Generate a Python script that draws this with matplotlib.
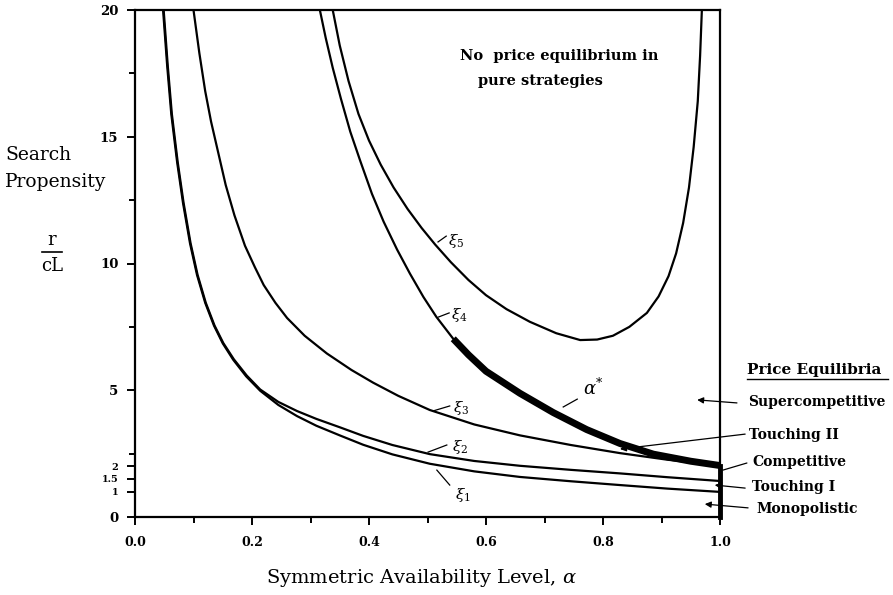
import numpy as np
import matplotlib.pyplot as plt
from matplotlib.lines import Line2D

plt.rcParams['font.family'] = ['DejaVu Serif']
plt.rcParams['mathtext.fontset'] = 'dejavuserif'

# ---------------- curves (alpha, r/cL) ----------------
xi1_x = [0.048, 0.055, 0.062, 0.072, 0.082, 0.094, 0.106, 0.120, 0.135, 0.150, 0.168,
         0.190, 0.214, 0.245, 0.277, 0.310, 0.350, 0.390, 0.440, 0.504, 0.580, 0.658,
         0.745, 0.829, 0.910, 1.000]
xi1_y = [20.0, 17.8, 15.9, 14.0, 12.4, 10.8, 9.55, 8.45, 7.55, 6.85, 6.2,
         5.55, 4.98, 4.42, 3.98, 3.6, 3.22, 2.85, 2.47, 2.1, 1.8, 1.58,
         1.41, 1.26, 1.12, 0.99]

xi2_x = [0.049, 0.056, 0.063, 0.073, 0.083, 0.095, 0.107, 0.121, 0.136, 0.151, 0.169,
         0.191, 0.214, 0.245, 0.277, 0.310, 0.350, 0.390, 0.440, 0.504, 0.580, 0.658,
         0.745, 0.829, 0.910, 1.000]
xi2_y = [20.0, 17.8, 15.9, 14.0, 12.4, 10.8, 9.55, 8.45, 7.55, 6.86, 6.22,
         5.58, 5.03, 4.54, 4.18, 3.87, 3.54, 3.2, 2.84, 2.48, 2.21, 2.02,
         1.86, 1.72, 1.57, 1.42]

xi3_x = [0.100, 0.110, 0.120, 0.130, 0.142, 0.155, 0.170, 0.188, 0.205, 0.220, 0.240,
         0.260, 0.290, 0.328, 0.370, 0.407, 0.450, 0.504, 0.580, 0.658, 0.745, 0.829,
         0.910, 1.000]
xi3_y = [20.0, 18.3, 16.8, 15.6, 14.4, 13.1, 11.9, 10.7, 9.85, 9.15, 8.45,
         7.85, 7.15, 6.45, 5.8, 5.3, 4.78, 4.22, 3.65, 3.22, 2.84, 2.52,
         2.26, 2.03]

xi4_x = [0.316, 0.326, 0.338, 0.352, 0.368, 0.385, 0.405, 0.425, 0.448, 0.470, 0.493,
         0.515, 0.530, 0.544]
xi4_y = [20.0, 18.9, 17.72, 16.5, 15.2, 14.05, 12.75, 11.65, 10.55, 9.6, 8.68,
         7.9, 7.45, 7.03]

astar_x = [0.544, 0.570, 0.600, 0.658, 0.715, 0.772, 0.829, 0.886, 0.950, 1.000]
astar_y = [7.03, 6.4, 5.75, 4.88, 4.12, 3.45, 2.9, 2.48, 2.2, 2.03]

xi5_x = [0.338, 0.350, 0.365, 0.382, 0.400, 0.420, 0.442, 0.466, 0.490, 0.513, 0.540,
         0.570, 0.600, 0.635, 0.675, 0.720, 0.761, 0.790, 0.817, 0.845, 0.875, 0.895,
         0.912, 0.925, 0.937, 0.947, 0.955, 0.962, 0.966, 0.969]
xi5_y = [20.0, 18.6, 17.2, 15.9, 14.85, 13.9, 13.0, 12.15, 11.4, 10.75, 10.05,
         9.35, 8.75, 8.2, 7.7, 7.25, 6.98, 7.0, 7.15, 7.5, 8.05, 8.7,
         9.5, 10.4, 11.6, 13.0, 14.6, 16.4, 18.2, 20.0]

# vertical segment of the alpha* locus at alpha = 1
edge_x = [1.0, 1.0]
edge_y = [0.0, 2.03]

ytick_major = [0, 1, 1.5, 2, 5, 10, 15, 20]
ytick_minor = [2.5, 7.5, 12.5, 17.5]
xtick_major = [0.0, 0.2, 0.4, 0.6, 0.8, 1.0]
xtick_minor = [0.1, 0.3, 0.5, 0.7, 0.9]

# ---------------- figure ----------------
fig = plt.figure(figsize=(8.93, 5.95), dpi=100)
ax = fig.add_axes([135/893, 1 - 517/595, 585/893, 507/595])

lw = 1.6
for xs, ys in [(xi1_x, xi1_y), (xi2_x, xi2_y), (xi3_x, xi3_y), (xi4_x, xi4_y), (xi5_x, xi5_y)]:
    ax.plot(xs, ys, color='black', lw=lw, solid_joinstyle='round')
ax.plot(astar_x, astar_y, color='black', lw=5, solid_capstyle='butt', solid_joinstyle='round')
ax.plot(edge_x, edge_y, color='black', lw=3.5, clip_on=False)

ax.set_xlim(0, 1.0)
ax.set_ylim(0, 20)
for s in ax.spines.values():
    s.set_linewidth(1.6)

ax.set_xticks(xtick_major)
ax.set_xticks(xtick_minor, minor=True)
ax.set_xticklabels(['%.1f' % v for v in xtick_major], fontsize=9, fontweight='bold')
ax.set_yticks(ytick_major)
ax.set_yticks(ytick_minor, minor=True)
ax.set_yticklabels([str(v) for v in ytick_major], fontweight='bold')
for lab, v in zip(ax.get_yticklabels(), ytick_major):
    lab.set_fontsize(7 if v in (1, 1.5, 2) else 9.5)
ax.tick_params(which='both', direction='out', width=1.4)
ax.tick_params(which='major', length=6)
ax.tick_params(which='minor', length=4)
ax.tick_params(axis='x', which='major', pad=8)
ax.tick_params(axis='y', which='major', pad=6)

# axis titles
fig.text(5/893, 1 - 155/595, 'Search', fontsize=13.5, va='center', ha='left')
fig.text(5/893, 1 - 182/595, 'Propensity', fontsize=13.5, va='center', ha='left')
fig.text(52/893, 1 - 240/595, 'r', fontsize=13, va='center', ha='center')
fig.add_artist(Line2D([42/893, 62/893], [1 - 252/595, 1 - 252/595], color='black', lw=1.2))
fig.text(52/893, 1 - 266/595, 'cL', fontsize=13, va='center', ha='center')
fig.text(421/893, 1 - 578/595, r'Symmetric Availability Level, $\alpha$', fontsize=14,
         va='center', ha='center')

# region text
ax.text(0.556, 18.2, 'No  price equilibrium in', fontsize=10.5, fontweight='bold', va='center')
ax.text(0.586, 17.2, 'pure strategies', fontsize=10.5, fontweight='bold', va='center')

# curve labels: (line from, line to, text pos, text)
curve_labels = [
    ((0.518, 10.85), (0.532, 11.08), (0.535, 10.9), r'$\xi_5$'),
    ((0.519, 7.89), (0.537, 8.05), (0.540, 7.97), r'$\xi_4$'),
    ((0.732, 4.34), (0.756, 4.65), (0.766, 5.09), r'$\alpha^{*}$'),
    ((0.509, 4.18), (0.538, 4.38), (0.544, 4.30), r'$\xi_3$'),
    ((0.501, 2.56), (0.533, 2.84), (0.542, 2.76), r'$\xi_2$'),
    ((0.516, 1.85), (0.538, 1.26), (0.547, 0.87), r'$\xi_1$'),
]
for p0, p1, pt, s in curve_labels:
    ax.plot([p0[0], p1[0]], [p0[1], p1[1]], color='black', lw=0.9)
    fs = 13 if 'alpha' in s else 11
    ax.text(pt[0], pt[1], s, fontsize=fs, va='center', ha='left')

# price equilibria legend on the right
fig.text(747/893, 1 - 370/595, 'Price Equilibria', fontsize=11, fontweight='bold', va='center')
fig.add_artist(Line2D([747/893, 888/893], [1 - 379/595, 1 - 379/595], color='black', lw=1.0))

eq_labels = [
    ('Supercompetitive', (1.048, 4.54), (1.029, 4.50), (0.961, 4.62), True),
    ('Touching II', (1.050, 3.23), (1.043, 3.27), (0.829, 2.68), True),
    ('Competitive', (1.055, 2.17), (1.046, 2.13), (1.005, 1.85), False),
    ('Touching I', (1.055, 1.18), (1.043, 1.14), (0.991, 1.26), True),
    ('Monopolistic', (1.063, 0.32), (1.048, 0.36), (0.974, 0.51), True),
]
for s, tp, a0, a1, head in eq_labels:
    ax.text(tp[0], tp[1], s, fontsize=10, fontweight='bold', va='center', ha='left', clip_on=False)
    style = '-|>' if head else '-'
    ax.annotate('', xy=a1, xytext=a0, xycoords='data', textcoords='data',
                annotation_clip=False,
                arrowprops=dict(arrowstyle=style, color='black', lw=0.9,
                                mutation_scale=9, shrinkA=0, shrinkB=0))

fig.savefig('out.png', dpi=100)
